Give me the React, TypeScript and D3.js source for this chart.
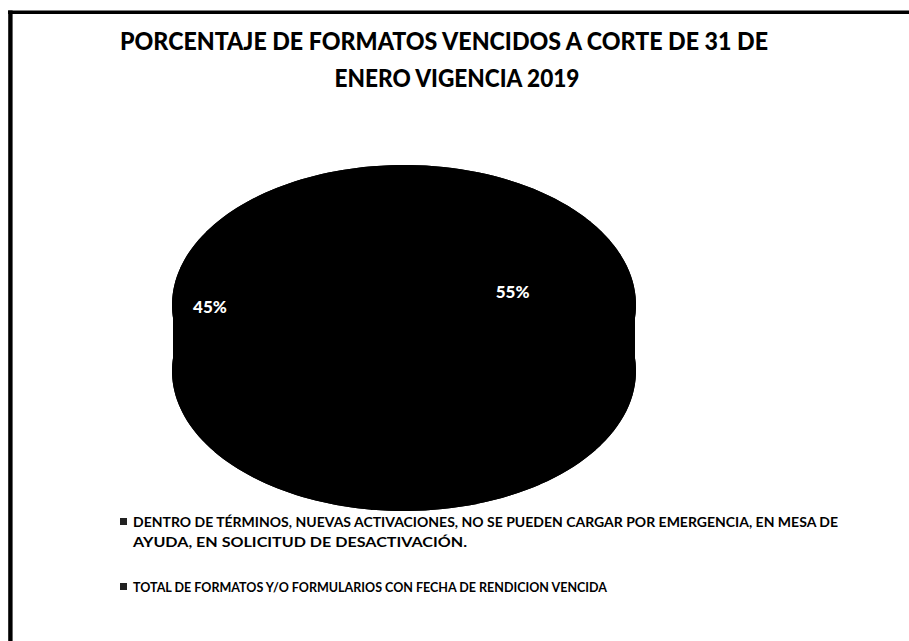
import React from "react";
import * as d3 from "d3";

const titleLines = ["PORCENTAJE DE FORMATOS  VENCIDOS A CORTE DE 31 DE", "ENERO VIGENCIA 2019"];
const categories = [
  "TOTAL DE FORMATOS Y/O FORMULARIOS CON FECHA DE RENDICION VENCIDA",
  "DENTRO DE TÉRMINOS, NUEVAS ACTIVACIONES, NO SE PUEDEN CARGAR POR EMERGENCIA, EN MESA DE AYUDA, EN SOLICITUD DE DESACTIVACIÓN.",
];
const values = [55, 45];
const legendOrder = [1, 0];
const legendLines = [
  ["DENTRO DE TÉRMINOS, NUEVAS ACTIVACIONES, NO SE PUEDEN CARGAR POR EMERGENCIA, EN MESA DE", "AYUDA, EN SOLICITUD DE DESACTIVACIÓN."],
  ["TOTAL DE FORMATOS Y/O FORMULARIOS CON FECHA DE RENDICION VENCIDA"],
];

const W = 909;
const H = 641;
const cx = 404;
const cy = 305;
const rx = 231;
const ry = 139;
const depth = 66;
const sliceColor = "#000";

export default function App() {
  const total = d3.sum(values);
  const pie = d3
    .pie<number>()
    .sort(null)
    .startAngle(-Math.PI / 18)
    .endAngle(2 * Math.PI - Math.PI / 18);
  const arcs = pie(values);
  const px = (a: number, r = 1) => cx + Math.sin(a) * rx * r;
  const py = (a: number, r = 1, off = 0) => cy - Math.cos(a) * ry * r + off;

  const facePath = (a0: number, a1: number, off: number) => {
    const pts = d3.range(0, 91).map((i) => a0 + ((a1 - a0) * i) / 90);
    let d = `M${cx},${cy + off}`;
    pts.forEach((a) => (d += `L${px(a)},${py(a, 1, off)}`));
    return d + "Z";
  };
  const wallPath = (a0: number, a1: number) => {
    const pts = d3.range(0, 91).map((i) => a0 + ((a1 - a0) * i) / 90);
    let d = "";
    pts.forEach((a, i) => (d += `${i ? "L" : "M"}${px(a)},${py(a)}`));
    [...pts].reverse().forEach((a) => (d += `L${px(a)},${py(a, 1, depth)}`));
    return d + "Z";
  };

  const labelR = [0.47, 0.84];
  const labelDy = [-10, 2];

  return (
    <svg
      width={W}
      height={H}
      style={{ position: "absolute", left: 0, top: 0, background: "#fff" }}
      fontFamily="Lato, 'Open Sans', sans-serif"
    >
      <rect x={0} y={0} width={W} height={H} fill="#fff" />
      <line x1={8} y1={12.3} x2={W} y2={12.3} stroke="#000" strokeWidth={3.4} />
      <line x1={10.4} y1={10.6} x2={10.4} y2={H} stroke="#000" strokeWidth={4.4} />

      <text x={444} y={50} textAnchor="middle" fontWeight="900" fontSize={25} textLength={648} lengthAdjust="spacingAndGlyphs">
        {titleLines[0]}
      </text>
      <text x={457} y={87} textAnchor="middle" fontWeight="900" fontSize={25} textLength={245} lengthAdjust="spacingAndGlyphs">
        {titleLines[1]}
      </text>

      <g>
        {arcs.map((a, i) => (
          <path key={"b" + i} d={facePath(a.startAngle, a.endAngle, depth)} fill={sliceColor} stroke={sliceColor} strokeWidth={2} strokeLinejoin="round" />
        ))}
        {arcs.map((a, i) => (
          <path key={"w" + i} d={wallPath(a.startAngle, a.endAngle)} fill={sliceColor} stroke={sliceColor} strokeWidth={2} strokeLinejoin="round" />
        ))}
        <rect x={cx - rx} y={cy} width={2 * rx} height={depth} fill={sliceColor} />
        {arcs.map((a, i) => (
          <path key={"t" + i} d={facePath(a.startAngle, a.endAngle, 0)} fill={sliceColor} stroke={sliceColor} strokeWidth={2} strokeLinejoin="round" />
        ))}
        {arcs.map((a, i) => {
          const mid = (a.startAngle + a.endAngle) / 2;
          const pct = Math.round((a.data / total) * 100) + "%";
          return (
            <text
              key={"l" + i}
              x={px(mid, labelR[i])}
              y={py(mid, labelR[i], labelDy[i])}
              textAnchor="middle"
              dominantBaseline="middle"
              fontWeight="900"
              fontSize={17}
              fill="#fff"
              stroke="#000"
              strokeWidth={0.8}
              paintOrder="stroke"
            >
              {pct}
            </text>
          );
        })}
      </g>

      <g fontWeight="bold" fontSize={14}>
        {legendOrder.map((ci, li) => {
          const y0 = li === 0 ? 527 : 592;
          const lines = legendLines[li];
          return (
            <g key={ci}>
              <title>{categories[ci]}</title>
              <rect x={120} y={y0 - 9} width={7} height={7} fill="#222" />
              {lines.map((t, k) => (
                <text
                  key={k}
                  x={133}
                  y={y0 + k * 20}
                  textLength={li === 0 ? (k === 0 ? 705 : 334) : 474}
                  lengthAdjust="spacingAndGlyphs"
                >
                  {t}
                </text>
              ))}
            </g>
          );
        })}
      </g>
    </svg>
  );
}
